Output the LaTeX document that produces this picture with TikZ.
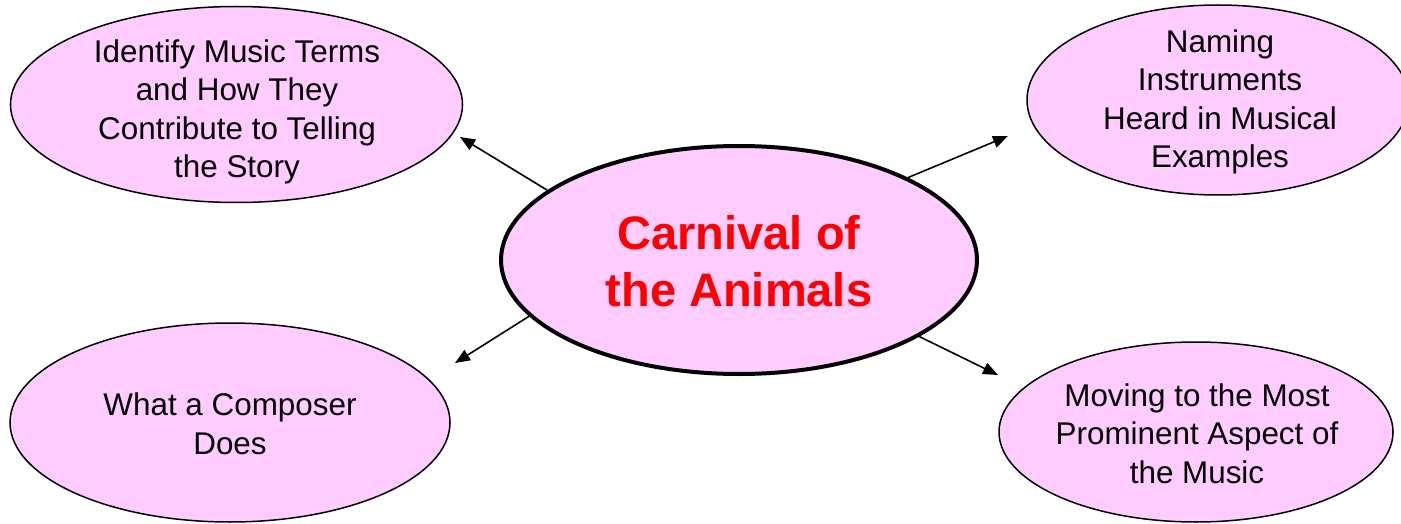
\documentclass[tikz,border=0pt]{standalone}
\usepackage{fontspec}
\setmainfont{Liberation Sans}
\usetikzlibrary{shapes.geometric,arrows.meta}
\definecolor{pinkfill}{RGB}{255,204,255}
\begin{document}
\begin{tikzpicture}[x=1pt,y=-1pt,
  bubble/.style={ellipse,draw=black,fill=pinkfill,line width=1.5pt,inner sep=0pt},
  lbl/.style={align=center,font=\fontsize{31.4}{38.5}\selectfont,inner sep=0pt},
  arr/.style={-{Triangle[length=15pt,width=12pt]},line width=1.6pt}]
\useasboundingbox (0,0) rectangle (1401,524);
% bubbles
\node[bubble,minimum width=452pt,minimum height=196pt] (tl) at (236.5,104.5) {};
\node[bubble,minimum width=382pt,minimum height=190pt] (tr) at (1218,100) {};
\node[bubble,minimum width=440pt,minimum height=199pt] (bl) at (230,422.5) {};
\node[bubble,minimum width=394pt,minimum height=180pt] (br) at (1196,432) {};
\node[bubble,line width=4pt,minimum width=476pt,minimum height=228pt] (c) at (739,260) {};
% texts
\node[lbl] (tlt) at (237,112) {Identify Music Terms\\and How They\\Contribute to Telling\\the Story};
\node[lbl] (trt) at (1220,102) {Naming\\Instruments\\Heard in Musical\\Examples};
\node[lbl] (blt) at (230,424) {What a Composer\\Does};
\node[lbl] (brt) at (1197,433.5) {Moving to the Most\\Prominent Aspect of\\the Music};
\node[align=center,inner sep=0pt,text=red,font=\fontsize{47}{57}\selectfont\bfseries] (ct) at (739,261) {Carnival of\\the Animals};
% arrow ends
\coordinate (e1) at (460,137);
\coordinate (e2) at (1008,136);
\coordinate (e3) at (455,363);
\coordinate (e4) at (998,375);
\draw[arr] (c.160.2) -- (e1);
\draw[arr] (c.26.8) -- (e2);
\draw[arr] (c.195.7) -- (e3);
\draw[arr] (c.337.5) -- (e4);
\end{tikzpicture}
\end{document}
